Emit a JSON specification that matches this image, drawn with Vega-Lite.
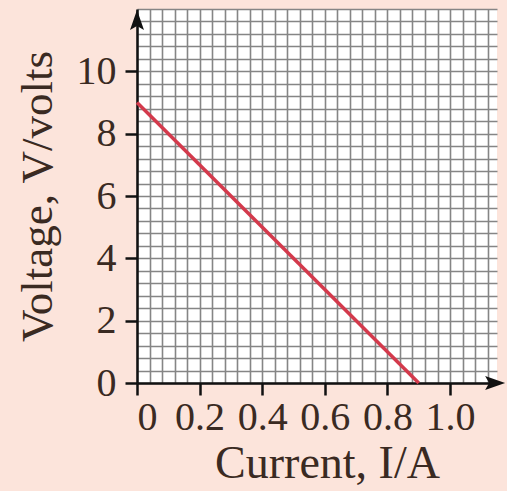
{
  "$schema": "https://vega.github.io/schema/vega-lite/v6.json",
  "autosize": {"type": "none"},
  "padding": {"left": 137, "top": 9, "right": 10, "bottom": 108},
  "width": 360,
  "height": 374,
  "background": "#fce4db",
  "config": {
    "view": {"stroke": null, "fill": "white"},
    "font": "Liberation Serif",
    "axis": {
      "labelFont": "Liberation Serif",
      "titleFont": "Liberation Serif",
      "labelColor": "#3a2a22",
      "titleColor": "#3a2a22",
      "labelFontWeight": "normal",
      "titleFontWeight": "normal",
      "domainColor": "#111111",
      "domainWidth": 2.5,
      "tickColor": "#111111",
      "tickWidth": 2.5,
      "tickSize": 12,
      "gridColor": "#858585",
      "gridWidth": 1.6,
      "gridOpacity": 1,
      "labelOverlap": false,
      "tickCount": 200
    }
  },
  "datasets": {
    "line": [{"I": 0, "V": 9}, {"I": 0.9, "V": 0}],
    "upArrow": [{"I": 0, "V": 11.65}],
    "rightArrow": [{"I": 1.144, "V": 0}]
  },
  "layer": [
    {
      "data": {"name": "line"},
      "mark": {"type": "line", "color": "#d33a4c", "strokeWidth": 3.5},
      "encoding": {
        "x": {
          "field": "I", "type": "quantitative",
          "scale": {"domain": [0, 1.15], "nice": false, "zero": false},
          "axis": {
            "title": "Current, I/A",
            "titleFontSize": 46,
            "titlePadding": 4,
            "titleX": 190,
            "labelFontSize": 40,
            "labelPadding": 2,
            "grid": true,
            "tickCount": 200,
            "values": [0,0.04,0.08,0.12,0.16,0.2,0.24,0.28,0.32,0.36,0.4,0.44,0.48,0.52,0.56,0.6,0.64,0.68,0.72,0.76,0.8,0.84,0.88,0.92,0.96,1,1.04,1.08,1.12],
            "labelExpr": "(abs(datum.value*5 - round(datum.value*5)) < 0.001 && datum.value < 1.001) ? (datum.value == 0 ? '0' : format(datum.value, '.1f')) : ''",
            "tickOpacity": {"condition": {"test": "abs(datum.value*5 - round(datum.value*5)) < 0.001 && datum.value < 1.001", "value": 1}, "value": 0}
          }
        },
        "y": {
          "field": "V", "type": "quantitative",
          "scale": {"domain": [0, 12], "nice": false, "zero": false},
          "axis": {
            "title": "Voltage, V/volts",
            "titleFontSize": 45,
            "titlePadding": 16,
            "labelFontSize": 40,
            "labelPadding": 9,
            "grid": true,
            "tickCount": 200,
            "values": [0,0.4,0.8,1.2,1.6,2,2.4,2.8,3.2,3.6,4,4.4,4.8,5.2,5.6,6,6.4,6.8,7.2,7.6,8,8.4,8.8,9.2,9.6,10,10.4,10.8,11.2,11.6,12],
            "labelExpr": "(abs(datum.value/2 - round(datum.value/2)) < 0.001 && datum.value < 10.001) ? format(datum.value, 'd') : ''",
            "tickOpacity": {"condition": {"test": "abs(datum.value/2 - round(datum.value/2)) < 0.001 && datum.value < 10.001", "value": 1}, "value": 0}
          }
        }
      }
    },
    {
      "data": {"name": "upArrow"},
      "mark": {"type": "point", "shape": "M0,-1L0.7,1L0,0.6L-0.7,1Z", "filled": true, "color": "#111111", "opacity": 1, "size": 400, "clip": false},
      "encoding": {
        "x": {"field": "I", "type": "quantitative"},
        "y": {"field": "V", "type": "quantitative"}
      }
    },
    {
      "data": {"name": "rightArrow"},
      "mark": {"type": "point", "shape": "M1,0L-1,0.7L-0.6,0L-1,-0.7Z", "filled": true, "color": "#111111", "opacity": 1, "size": 400, "clip": false},
      "encoding": {
        "x": {"field": "I", "type": "quantitative"},
        "y": {"field": "V", "type": "quantitative"}
      }
    }
  ]
}
